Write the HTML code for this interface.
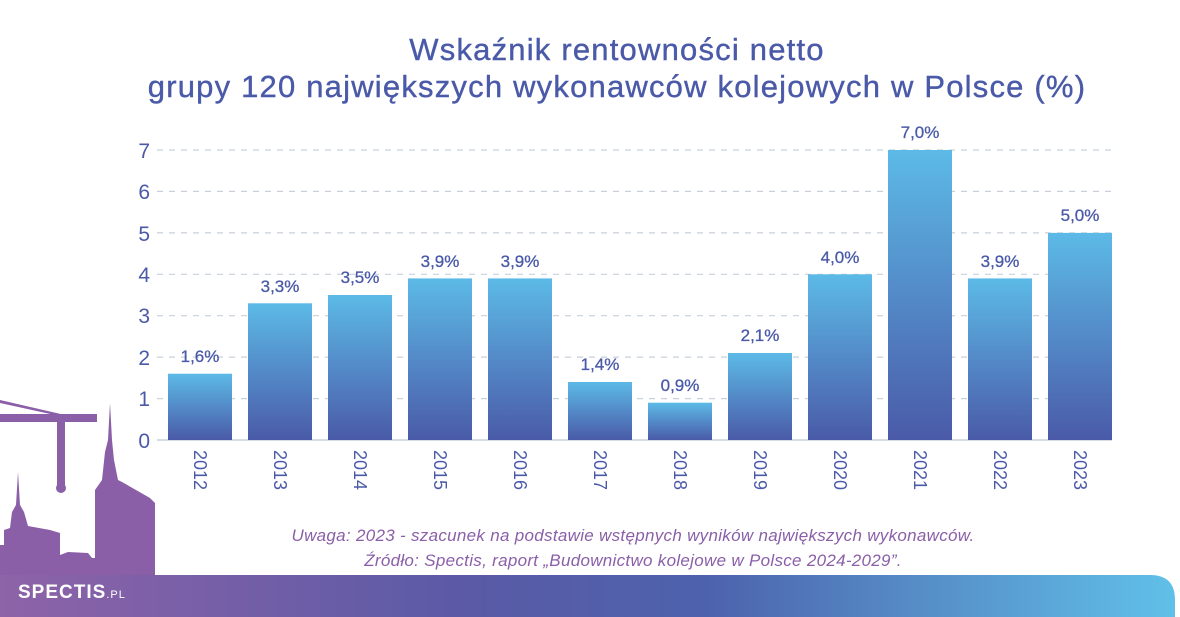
<!DOCTYPE html>
<html><head><meta charset="utf-8"><style>
body{margin:0;width:1180px;height:617px;background:#fff;position:relative;overflow:hidden;font-family:"Liberation Sans",sans-serif}
.t{position:absolute;left:27px;width:1180px;text-align:center;color:#4a5aa8;font-size:31px;line-height:38px;letter-spacing:1.2px;font-weight:500;-webkit-text-stroke:0.4px #4a5aa8}
</style></head><body>
<div class="t" style="top:31px">Wskaźnik rentowności netto</div>
<div class="t" style="top:68px">grupy 120 największych wykonawców kolejowych w Polsce (%)</div>
<svg width="1180" height="617" style="position:absolute;left:0;top:0">
<defs>
<linearGradient id="b" x1="0" y1="0" x2="0" y2="1"><stop offset="0" stop-color="#5cbae7"/><stop offset="1" stop-color="#4a5aa8"/></linearGradient>
<linearGradient id="f" x1="0" y1="0" x2="1" y2="0"><stop offset="0" stop-color="#8e63a8"/><stop offset="0.4" stop-color="#5a5aa6"/><stop offset="0.6" stop-color="#4d62ac"/><stop offset="1" stop-color="#60c0e8"/></linearGradient>
</defs>
<g stroke="#c8d0dc" stroke-width="1.2" stroke-dasharray="6,6">
<line x1="157" x2="1112" y1="150" y2="150"/><line x1="157" x2="1112" y1="191.4" y2="191.4"/><line x1="157" x2="1112" y1="232.9" y2="232.9"/><line x1="157" x2="1112" y1="274.3" y2="274.3"/><line x1="157" x2="1112" y1="315.7" y2="315.7"/><line x1="157" x2="1112" y1="357.1" y2="357.1"/><line x1="157" x2="1112" y1="398.6" y2="398.6"/>
</g>
<line x1="157" x2="1112" y1="440" y2="440" stroke="#c8d0dc" stroke-width="1.5"/>
<g fill="#4a5aa8" font-size="21" text-anchor="end">
<text x="150" y="158">7</text><text x="150" y="199">6</text><text x="150" y="241">5</text><text x="150" y="282">4</text><text x="150" y="323">3</text><text x="150" y="365">2</text><text x="150" y="406">1</text><text x="150" y="448">0</text>
</g>
<g fill="url(#b)">
<rect x="168" y="373.7" width="64" height="66.3"/>
<rect x="248" y="303.3" width="64" height="136.7"/>
<rect x="328" y="295" width="64" height="145"/>
<rect x="408" y="278.4" width="64" height="161.6"/>
<rect x="488" y="278.4" width="64" height="161.6"/>
<rect x="568" y="382" width="64" height="58"/>
<rect x="648" y="402.7" width="64" height="37.3"/>
<rect x="728" y="353" width="64" height="87"/>
<rect x="808" y="274.3" width="64" height="165.7"/>
<rect x="888" y="150" width="64" height="290"/>
<rect x="968" y="278.4" width="64" height="161.6"/>
<rect x="1048" y="232.9" width="64" height="207.1"/>
</g>
<g fill="#4a5aa8" font-size="17" text-anchor="middle" stroke="#4a5aa8" stroke-width="0.3">
<text x="200" y="362">1,6%</text><text x="280" y="292">3,3%</text><text x="360" y="283">3,5%</text><text x="440" y="267">3,9%</text><text x="520" y="267">3,9%</text><text x="600" y="370">1,4%</text><text x="680" y="391">0,9%</text><text x="760" y="341">2,1%</text><text x="840" y="263">4,0%</text><text x="920" y="138">7,0%</text><text x="1000" y="267">3,9%</text><text x="1080" y="221">5,0%</text>
</g>
<g fill="#4a5aa8" font-size="18">
<text transform="translate(194,450) rotate(90)">2012</text><text transform="translate(274,450) rotate(90)">2013</text><text transform="translate(354,450) rotate(90)">2014</text><text transform="translate(434,450) rotate(90)">2015</text><text transform="translate(514,450) rotate(90)">2016</text><text transform="translate(594,450) rotate(90)">2017</text><text transform="translate(674,450) rotate(90)">2018</text><text transform="translate(754,450) rotate(90)">2019</text><text transform="translate(834,450) rotate(90)">2020</text><text transform="translate(914,450) rotate(90)">2021</text><text transform="translate(994,450) rotate(90)">2022</text><text transform="translate(1074,450) rotate(90)">2023</text>
</g>
<g fill="#8a5fa8" font-size="17" font-style="italic" text-anchor="middle" letter-spacing="0.3">
<text x="633" y="541">Uwaga: 2023 - szacunek na podstawie wstępnych wyników największych wykonawców.</text>
<text x="633" y="566">Źródło: Spectis, raport „Budownictwo kolejowe w Polsce 2024-2029”.</text>
</g>
<path d="M0 575 H1150 Q1175 575 1175 600 V617 H0Z" fill="url(#f)"/>
<g fill="#8a5fa8">
<path d="M0 545 L4 545 L4 530 L10 528 L12 512 L16 505 L18 472 L20 505 L24 512 L28 526 L50 530 L60 533 L60 555 L68 552 L88 553 L92 558 L95 558 L95 490 L102 480 L105 452 L108 440 L110 403 L112 440 L114 460 L118 480 L122 482 L150 498 L155 503 L155 575 L0 575Z"/>
<rect x="0" y="414" width="97" height="8"/>
<path d="M0 400 L65 415 L64 417 L0 403Z"/>
<rect x="57" y="420" width="8" height="70"/>
<circle cx="61" cy="488" r="5"/>
</g>
<text x="18" y="598" fill="#fff" font-size="19" font-weight="bold" letter-spacing="1">SPECTIS<tspan font-size="11" font-weight="normal">.PL</tspan></text>
</svg>
</body></html>
